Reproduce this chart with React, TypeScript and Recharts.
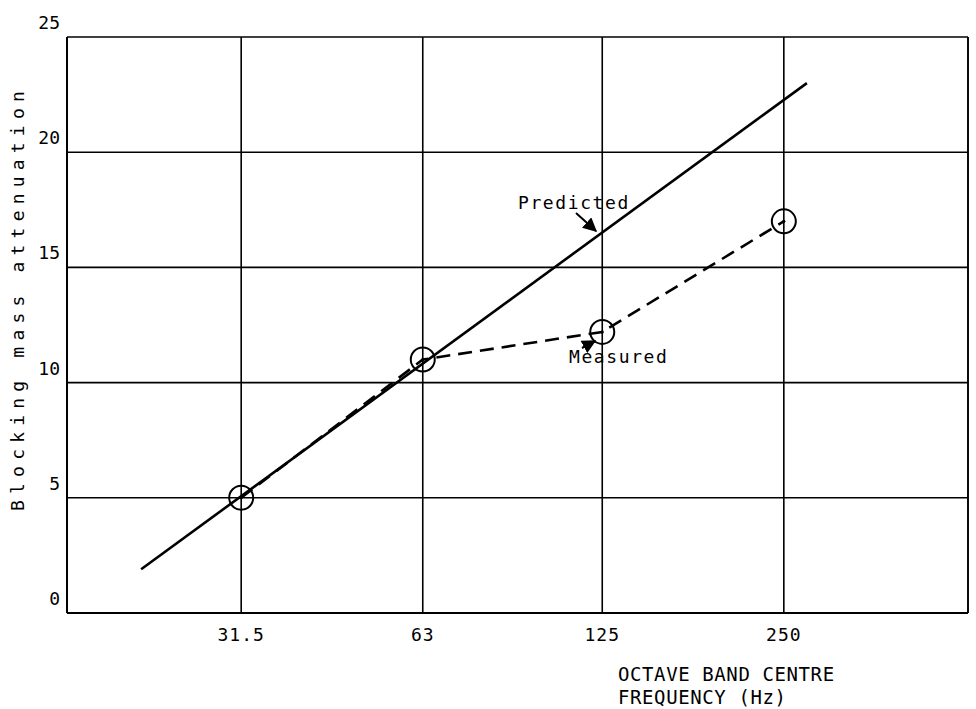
import React from 'react'
import { LineChart, Line, XAxis, YAxis, CartesianGrid, ReferenceLine } from 'recharts'

// octave band centres (Hz) and their tick labels
const bands = [31.5, 63, 125, 250]
const bandLabels = ['31.5', '63', '125', '250']

// measured attenuation at each band
const measured = [5.0, 11.0, 12.2, 17.0]

// predicted line: start and end of the drawn straight line
const predictedFreq = [21.5, 273]
const predictedValue = [1.9, 23.0]

const yTicks = [0, 5, 10, 15, 20, 25]

const measuredData = bands.map((f, i) => ({ f, v: measured[i] }))
const predictedData = predictedFreq.map((f, i) => ({ f, v: predictedValue[i] }))

const FONT = '"DejaVu Sans Mono", "Liberation Mono", monospace'

const XTick = (props: any) => {
  const { x, y, payload } = props
  const idx = bands.indexOf(payload.value)
  return (
    <text x={x} y={y + 20} textAnchor="middle" fontFamily={FONT} fontSize={18} letterSpacing={1} fill="#000">
      {idx >= 0 ? bandLabels[idx] : payload.value}
    </text>
  )
}

const YTick = (props: any) => {
  const { x, y, payload } = props
  return (
    <text x={x + 1} y={y - 8} textAnchor="end" fontFamily={FONT} fontSize={18} fill="#000">
      {payload.value}
    </text>
  )
}

const Ring = (props: any) => {
  const { cx, cy } = props
  if (cx == null || cy == null) return null
  return (
    <g>
      <circle cx={cx} cy={cy} r={12} fill="none" stroke="#000" strokeWidth={2} />
      <circle cx={cx} cy={cy} r={1.6} fill="#000" />
    </g>
  )
}

export default function App() {
  return (
    <div style={{ position: 'absolute', left: 0, top: 0, width: 976, height: 709, background: '#fff' }}>
      <LineChart width={976} height={709} margin={{ top: 37, right: 8, left: 0, bottom: 0 }}>
        <CartesianGrid stroke="#000" strokeWidth={1.6} />
        <XAxis
          dataKey="f"
          type="number"
          scale="log"
          domain={[16.2, 505]}
          ticks={bands}
          allowDataOverflow
          height={96}
          tick={<XTick />}
          tickLine={false}
          axisLine={{ stroke: '#000', strokeWidth: 2 }}
        />
        <YAxis
          type="number"
          domain={[0, 25]}
          ticks={yTicks}
          width={67}
          tick={<YTick />}
          tickLine={false}
          axisLine={{ stroke: '#000', strokeWidth: 2 }}
        />
        <ReferenceLine x={505} stroke="#000" strokeWidth={1.6} />
        <Line
          data={predictedData}
          dataKey="v"
          type="linear"
          stroke="#000"
          strokeWidth={2.6}
          dot={false}
          isAnimationActive={false}
        />
        <Line
          data={measuredData}
          dataKey="v"
          type="linear"
          stroke="#000"
          strokeWidth={2.6}
          strokeDasharray="14 8"
          dot={<Ring />}
          isAnimationActive={false}
        />
      </LineChart>
      <svg width={976} height={709} style={{ position: 'absolute', left: 0, top: 0, pointerEvents: 'none' }}>
        <defs>
          <marker id="ah" viewBox="0 0 10 10" refX="9" refY="5" markerWidth="7" markerHeight="7" orient="auto">
            <path d="M0,0 L10,5 L0,10 z" fill="#000" />
          </marker>
        </defs>
        <text
          transform="translate(24,298) rotate(-90)"
          textAnchor="middle"
          fontFamily={FONT}
          fontSize={18}
          letterSpacing={6.2}
          fill="#000"
        >
          Blocking mass attenuation
        </text>
        <text x={518} y={209} fontFamily={FONT} fontSize={18} letterSpacing={1.6} fill="#000">Predicted</text>
        <line x1={576} y1={213} x2={596} y2={231} stroke="#000" strokeWidth={2} markerEnd="url(#ah)" />
        <text x={569} y={363} fontFamily={FONT} fontSize={18} letterSpacing={1.6} fill="#000">Measured</text>
        <line x1={582} y1={348} x2={595} y2={341} stroke="#000" strokeWidth={2} markerEnd="url(#ah)" />
        <text x={618} y={681} fontFamily={FONT} fontSize={19} letterSpacing={0.6} fill="#000">OCTAVE BAND CENTRE</text>
        <text x={618} y={704} fontFamily={FONT} fontSize={19} letterSpacing={0.6} fill="#000">FREQUENCY (Hz)</text>
      </svg>
    </div>
  )
}
